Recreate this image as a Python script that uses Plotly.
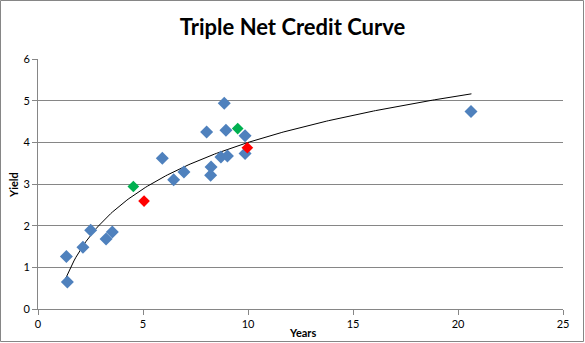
import numpy as np
import plotly.graph_objects as go

# Data
blue_years = [1.35, 1.40, 2.14, 2.51, 3.24, 3.54, 5.92, 6.46, 6.95, 8.03, 8.24, 8.22,
              8.71, 9.02, 8.87, 8.95, 9.86, 9.86, 20.62]
blue_yield = [1.26, 0.65, 1.48, 1.89, 1.68, 1.85, 3.62, 3.10, 3.29, 4.25, 3.41, 3.21,
              3.65, 3.67, 4.94, 4.29, 4.16, 3.73, 4.74]
green_years = [4.54, 9.51]
green_yield = [2.94, 4.33]
red_years = [5.05, 9.97]
red_yield = [2.59, 3.87]

# Logarithmic trendline y = a + b*ln(x), coefficients
trend_a = 0.29
trend_b = 1.61
trend_x_min = 1.32
trend_x_max = 20.64

x_ticks = [0, 5, 10, 15, 20, 25]
y_ticks = [0, 1, 2, 3, 4, 5, 6]

W, H = 585, 343
L, R, T, B = 38, 22, 59, 34
pw, ph = W - L - R, H - T - B

font = "Lato, 'Open Sans', sans-serif"

fig = go.Figure()

tx = np.linspace(trend_x_min, trend_x_max, 200)
ty = trend_a + trend_b * np.log(tx)
fig.add_trace(go.Scatter(x=tx, y=ty, mode="lines",
                         line=dict(color="black", width=1), hoverinfo="skip"))

fig.add_trace(go.Scatter(x=blue_years, y=blue_yield, mode="markers",
                         marker=dict(symbol="diamond", size=10, color="#4F81BD",
                                     line=dict(width=0))))
fig.add_trace(go.Scatter(x=green_years, y=green_yield, mode="markers",
                         marker=dict(symbol="diamond", size=9, color="#00B050",
                                     line=dict(width=0))))
fig.add_trace(go.Scatter(x=red_years, y=red_yield, mode="markers",
                         marker=dict(symbol="diamond", size=9, color="#FF0000",
                                     line=dict(width=0))))

fig.update_layout(
    width=W, height=H,
    margin=dict(l=L, r=R, t=T, b=B),
    paper_bgcolor="white", plot_bgcolor="white",
    showlegend=False,
    font=dict(family=font, size=11, color="black"),
    title=dict(text="<b>Triple Net Credit Curve</b>", x=0.5, xanchor="center",
               xref="container", y=1 - 27 / H, yanchor="middle",
               font=dict(family=font, size=22, color="black")),
    xaxis=dict(range=[0, 25], tickvals=x_ticks, showgrid=False, zeroline=False,
               showline=True, linecolor="#868686", linewidth=1,
               ticks="outside", ticklen=5, tickcolor="#868686",
               tickfont=dict(size=11)),
    yaxis=dict(range=[0, 6], tickvals=y_ticks, showgrid=True, gridcolor="#868686",
               gridwidth=1, zeroline=False, showline=True, linecolor="#868686",
               linewidth=1, ticks="outside", ticklen=5, tickcolor="#868686",
               tickfont=dict(size=11)),
)

fig.add_annotation(text="<b>Years</b>", xref="paper", yref="paper",
                   x=(302 - L) / pw, y=-(332 - (T + ph)) / ph, showarrow=False,
                   xanchor="center", yanchor="middle", font=dict(size=11))
fig.add_annotation(text="<b>Yield</b>", xref="paper", yref="paper",
                   x=-(L - 13) / pw, y=1 - (185 - T) / ph, showarrow=False,
                   textangle=-90, xanchor="center", yanchor="middle", font=dict(size=11))

# chart-area border
fig.add_shape(type="rect", xref="paper", yref="paper",
              x0=-(L - 0.5) / pw, x1=1 + (R - 1.5) / pw,
              y0=-(B - 1.5) / ph, y1=1 + (T - 0.5) / ph,
              line=dict(color="#868686", width=1), fillcolor="rgba(0,0,0,0)", layer="below")

fig.write_html("out.html")
